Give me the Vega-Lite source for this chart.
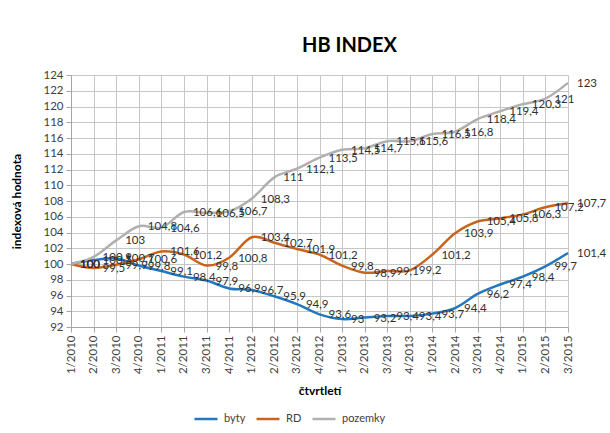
{
  "$schema": "https://vega.github.io/schema/vega-lite/v6.json",
  "width": 497,
  "height": 252,
  "autosize": {"type": "none"},
  "padding": {"left": 71, "top": 75, "right": 42, "bottom": 106},
  "background": "white",
  "title": {"text": "HB INDEX", "font": "Lato", "fontSize": 20, "fontWeight": "bold", "color": "#000000", "anchor": "middle", "dx": 30, "offset": 13},
  "config": {
    "font": "Lato",
    "locale": {"number": {"decimal": ",", "thousands": " ", "grouping": [3], "currency": ["", ""]}},
    "view": {"stroke": null},
    "axis": {
      "gridColor": "#c6c6c6", "gridWidth": 1,
      "domainColor": "#a6a6a6", "tickColor": "#a6a6a6",
      "labelColor": "#404040", "labelFont": "Lato", "labelFontSize": 11.5,
      "titleFont": "Lato", "titleFontSize": 12, "titleFontWeight": "bold", "titleColor": "#000000"
    },
    "legend": {"labelFont": "Lato", "labelFontSize": 11, "labelColor": "#404040"}
  },
  "data": {"values": [
    {"q": "1/2010", "s": "byty", "v": 100}, {"q": "2/2010", "s": "byty", "v": 100.5}, {"q": "3/2010", "s": "byty", "v": 100.7}, {"q": "4/2010", "s": "byty", "v": 99.8},
    {"q": "1/2011", "s": "byty", "v": 99.1}, {"q": "2/2011", "s": "byty", "v": 98.4}, {"q": "3/2011", "s": "byty", "v": 97.9}, {"q": "4/2011", "s": "byty", "v": 96.9},
    {"q": "1/2012", "s": "byty", "v": 96.7}, {"q": "2/2012", "s": "byty", "v": 95.9}, {"q": "3/2012", "s": "byty", "v": 94.9}, {"q": "4/2012", "s": "byty", "v": 93.6},
    {"q": "1/2013", "s": "byty", "v": 93}, {"q": "2/2013", "s": "byty", "v": 93.2}, {"q": "3/2013", "s": "byty", "v": 93.4}, {"q": "4/2013", "s": "byty", "v": 93.4},
    {"q": "1/2014", "s": "byty", "v": 93.7}, {"q": "2/2014", "s": "byty", "v": 94.4}, {"q": "3/2014", "s": "byty", "v": 96.2}, {"q": "4/2014", "s": "byty", "v": 97.4},
    {"q": "1/2015", "s": "byty", "v": 98.4}, {"q": "2/2015", "s": "byty", "v": 99.7}, {"q": "3/2015", "s": "byty", "v": 101.4},
    {"q": "1/2010", "s": "RD", "v": 100}, {"q": "2/2010", "s": "RD", "v": 99.5}, {"q": "3/2010", "s": "RD", "v": 99.9}, {"q": "4/2010", "s": "RD", "v": 100.6},
    {"q": "1/2011", "s": "RD", "v": 101.6}, {"q": "2/2011", "s": "RD", "v": 101.2}, {"q": "3/2011", "s": "RD", "v": 99.8}, {"q": "4/2011", "s": "RD", "v": 100.8},
    {"q": "1/2012", "s": "RD", "v": 103.4}, {"q": "2/2012", "s": "RD", "v": 102.7}, {"q": "3/2012", "s": "RD", "v": 101.9}, {"q": "4/2012", "s": "RD", "v": 101.2},
    {"q": "1/2013", "s": "RD", "v": 99.8}, {"q": "2/2013", "s": "RD", "v": 98.9}, {"q": "3/2013", "s": "RD", "v": 99.1}, {"q": "4/2013", "s": "RD", "v": 99.2},
    {"q": "1/2014", "s": "RD", "v": 101.2}, {"q": "2/2014", "s": "RD", "v": 103.9}, {"q": "3/2014", "s": "RD", "v": 105.4}, {"q": "4/2014", "s": "RD", "v": 105.8},
    {"q": "1/2015", "s": "RD", "v": 106.3}, {"q": "2/2015", "s": "RD", "v": 107.2}, {"q": "3/2015", "s": "RD", "v": 107.7},
    {"q": "1/2010", "s": "pozemky", "v": 100}, {"q": "2/2010", "s": "pozemky", "v": 100.9}, {"q": "3/2010", "s": "pozemky", "v": 103}, {"q": "4/2010", "s": "pozemky", "v": 104.8},
    {"q": "1/2011", "s": "pozemky", "v": 104.6}, {"q": "2/2011", "s": "pozemky", "v": 106.6}, {"q": "3/2011", "s": "pozemky", "v": 106.5}, {"q": "4/2011", "s": "pozemky", "v": 106.7},
    {"q": "1/2012", "s": "pozemky", "v": 108.3}, {"q": "2/2012", "s": "pozemky", "v": 111.0}, {"q": "3/2012", "s": "pozemky", "v": 112.1}, {"q": "4/2012", "s": "pozemky", "v": 113.5},
    {"q": "1/2013", "s": "pozemky", "v": 114.5}, {"q": "2/2013", "s": "pozemky", "v": 114.7}, {"q": "3/2013", "s": "pozemky", "v": 115.6}, {"q": "4/2013", "s": "pozemky", "v": 115.6},
    {"q": "1/2014", "s": "pozemky", "v": 116.5}, {"q": "2/2014", "s": "pozemky", "v": 116.8}, {"q": "3/2014", "s": "pozemky", "v": 118.4}, {"q": "4/2014", "s": "pozemky", "v": 119.4},
    {"q": "1/2015", "s": "pozemky", "v": 120.3}, {"q": "2/2015", "s": "pozemky", "v": 121}, {"q": "3/2015", "s": "pozemky", "v": 123}
  ]},
  "encoding": {
    "x": {"field": "q", "type": "ordinal", "sort": null, "scale": {"type": "point", "padding": 0},
      "axis": {"title": "čtvrtletí", "labelAngle": 270, "grid": true, "tickSize": 5, "labelPadding": 3, "titlePadding": 12}},
    "y": {"field": "v", "type": "quantitative", "scale": {"domain": [92, 124], "nice": false, "zero": false},
      "axis": {"title": "indexová hodnota", "values": [92, 94, 96, 98, 100, 102, 104, 106, 108, 110, 112, 114, 116, 118, 120, 122, 124], "grid": true, "tickSize": 5, "labelPadding": 3, "titlePadding": 19}}
  },
  "layer": [
    {
      "mark": {"type": "line", "interpolate": "cardinal", "strokeWidth": 2.5},
      "encoding": {
        "color": {"field": "s", "type": "nominal", "sort": ["byty", "RD", "pozemky"],
          "scale": {"domain": ["byty", "RD", "pozemky"], "range": ["#2277c0", "#c8641e", "#b0b0b0"]},
          "legend": {"title": null, "orient": "none", "legendX": 122, "legendY": 331, "direction": "horizontal", "symbolType": "stroke", "symbolSize": 529, "symbolStrokeWidth": 2.5, "labelOffset": 5, "columnPadding": 5}}
      }
    },
    {
      "mark": {"type": "text", "align": "left", "baseline": "middle", "dx": 9, "dy": 1, "fontSize": 11.5, "color": "#303030"},
      "encoding": {"text": {"field": "v", "type": "quantitative", "format": ".1~f"}}
    }
  ]
}
